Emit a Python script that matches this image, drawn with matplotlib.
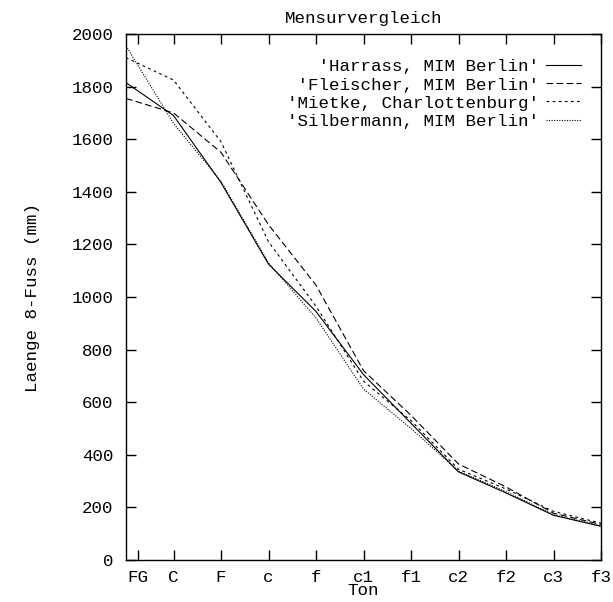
import matplotlib
matplotlib.use("Agg")
import matplotlib.pyplot as plt

# Ton-Positionen (0 = tiefster Ton links am Rand)
pos = [0, 1, 2, 3, 4, 5, 6, 7, 8, 9, 10]
tick_pos = [0.25, 1, 2, 3, 4, 5, 6, 7, 8, 9, 10]
tick_lab = ["FG", "C", "F", "c", "f", "c1", "f1", "c2", "f2", "c3", "f3"]

harrass = [1815, 1690, 1435, 1125, 945, 705, 520, 335, 255, 170, 128]
fleischer = [1755, 1700, 1550, 1275, 1045, 720, 550, 365, 278, 178, 135]
mietke = [1910, 1825, 1590, 1210, 965, 680, 530, 345, 270, 185, 140]
silbermann = [1955, 1660, 1440, 1130, 920, 650, 500, 338, 260, 172, 130]

names = ["'Harrass, MIM Berlin'", "'Fleischer, MIM Berlin'",
         "'Mietke, Charlottenburg'", "'Silbermann, MIM Berlin'"]

plt.rcParams["font.family"] = ["Liberation Mono", "DejaVu Sans Mono"]
plt.rcParams["font.size"] = 12.6

fig = plt.figure(figsize=(6.13, 6.02), dpi=100)
ax = fig.add_axes([126 / 613, 42 / 602, 475 / 613, 526 / 602])

styles = ["-", (0, (6, 3)), (0, (2.5, 3)), (0, (1, 1.3))]
w = max(len(n) for n in names)
for ys, ls, nm in zip([harrass, fleischer, mietke, silbermann], styles, names):
    ax.plot(pos, ys, color="black", lw=0.8, ls=ls, label=nm.rjust(w))

ax.set_xlim(0, 10)
ax.set_ylim(0, 2000)
ax.set_xticks(tick_pos)
ax.set_xticklabels(tick_lab)
ax.set_yticks(range(0, 2001, 200))
ax.tick_params(direction="in", top=True, right=True, length=7, width=1, pad=9)
ax.tick_params(axis="x", pad=7)
for s in ax.spines.values():
    s.set_linewidth(1)

ax.set_title("Mensurvergleich", fontsize=12.6, pad=8)
ax.set_xlabel("Ton", labelpad=-1)
ax.set_ylabel("Laenge 8-Fuss (mm)", labelpad=23)

leg = ax.legend(loc="upper right", bbox_to_anchor=(0.958, 0.952), frameon=False,
                markerfirst=False, handlelength=2.0, handletextpad=0.4,
                labelspacing=0.16, borderpad=0, borderaxespad=0)

fig.savefig("out.png", dpi=100)
